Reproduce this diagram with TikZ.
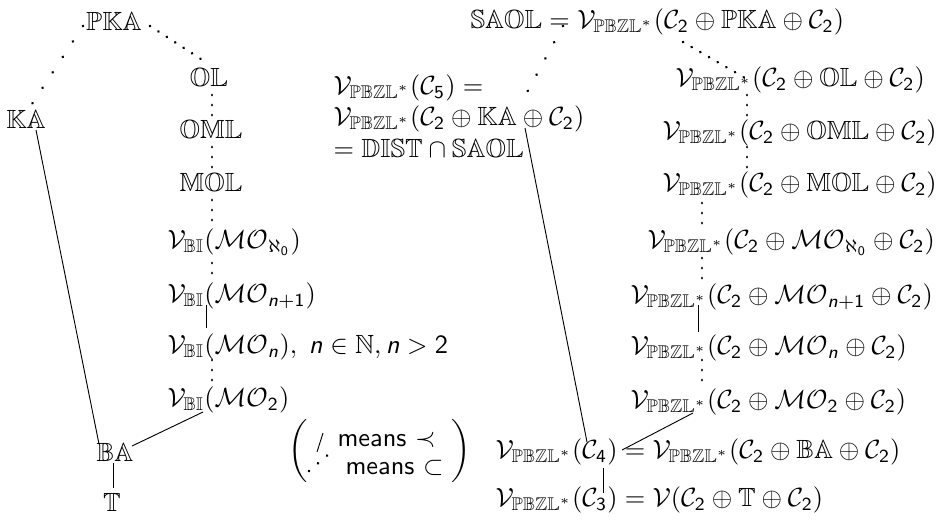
\documentclass[tikz,border=0pt]{standalone}
\usepackage{amsmath,amssymb}
\usetikzlibrary{positioning}

% sans digits and sans slanted n in math
\DeclareSymbolFont{sfdigits}{OT1}{cmss}{m}{n}
\DeclareSymbolFont{sfslanted}{OT1}{cmss}{m}{sl}
\DeclareMathSymbol{0}{\mathalpha}{sfdigits}{`0}
\DeclareMathSymbol{1}{\mathalpha}{sfdigits}{`1}
\DeclareMathSymbol{2}{\mathalpha}{sfdigits}{`2}
\DeclareMathSymbol{3}{\mathalpha}{sfdigits}{`3}
\DeclareMathSymbol{4}{\mathalpha}{sfdigits}{`4}
\DeclareMathSymbol{5}{\mathalpha}{sfdigits}{`5}
\DeclareMathSymbol{n}{\mathalpha}{sfslanted}{`n}

\newcommand{\VBI}{\mathcal{V}_{\mathbb{BI}}}
\newcommand{\VPB}{\mathcal{V}_{\mathbb{PBZL}^{*}}}
\newcommand{\Cc}[1]{\mathcal{C}_{#1}}

\begin{document}
\begin{tikzpicture}[
                    x=0.38pt, y=-0.38pt,
                    lbl/.style={inner sep=0pt},
                    lblw/.style={inner sep=0pt, anchor=west},
                    cover/.style={draw, line width=0.35pt},
                    incl/.style={draw, line width=1.1pt, line cap=round, dash pattern=on 0.01pt off 3.8pt},
                    inclwide/.style={incl, dash pattern=on 0.01pt off 7pt}
                ]
                    \useasboundingbox (0,0) rectangle (946,519);

                    % Place nodes: left lattice
                    \node [lbl] (pka) at (114,21) {$\mathbb{PKA}$};
                    \node [lbl] (ka) at (26,119) {$\mathbb{KA}$};
                    \node [lbl] (ol) at (209,80) {$\mathbb{OL}$};
                    \node [lbl] (oml) at (211,132) {$\mathbb{OML}$};
                    \node [lbl] (mol) at (211,185) {$\mathbb{MOL}$};
                    \node [lblw] (alf) at (167,242) {$\VBI(\mathcal{MO}_{\aleph_0})$};
                    \node [lblw] (np) at (167,296) {$\VBI(\mathcal{MO}_{n+1})$};
                    \node [lblw] (nn) at (167,347) {$\VBI(\mathcal{MO}_{n}),\; n\in\mathbb{N}, n>2$};
                    \node [lblw] (two) at (167,400) {$\VBI(\mathcal{MO}_{2})$};
                    \node [lbl] (ba) at (115,452) {$\mathbb{BA}$};
                    \node [lbl] (tt) at (112,502) {$\mathbb{T}$};

                    % Place nodes: right lattice
                    \node [lblw] (saol) at (470,22) {$\mathbb{SAOL}=\VPB(\Cc2\oplus\mathbb{PKA}\oplus\Cc2)$};
                    \node [lblw, align=left] (cfive) at (333,118) {$\VPB(\Cc5)=$\\[0pt]$\VPB(\Cc2\oplus\mathbb{KA}\oplus\Cc2)$\\[0pt]$=\mathbb{DIST}\cap\mathbb{SAOL}$};
                    \node [lblw] (rol) at (675,80) {$\VPB(\Cc2\oplus\mathbb{OL}\oplus\Cc2)$};
                    \node [lblw] (roml) at (662,133) {$\VPB(\Cc2\oplus\mathbb{OML}\oplus\Cc2)$};
                    \node [lblw] (rmol) at (662,185) {$\VPB(\Cc2\oplus\mathbb{MOL}\oplus\Cc2)$};
                    \node [lblw] (ralf) at (647,242) {$\VPB(\Cc2\oplus\mathcal{MO}_{\aleph_0}\oplus\Cc2)$};
                    \node [lblw] (rnp) at (630,297) {$\VPB(\Cc2\oplus\mathcal{MO}_{n+1}\oplus\Cc2)$};
                    \node [lblw] (rn) at (630,348) {$\VPB(\Cc2\oplus\mathcal{MO}_{n}\oplus\Cc2)$};
                    \node [lblw] (rtwo) at (630,402) {$\VPB(\Cc2\oplus\mathcal{MO}_{2}\oplus\Cc2)$};
                    \node [lblw] (cfour) at (495,452) {$\VPB(\Cc4)=\VPB(\Cc2\oplus\mathbb{BA}\oplus\Cc2)$};
                    \node [lblw] (cthree) at (495,500) {$\VPB(\Cc3)=\mathcal{V}(\Cc2\oplus\mathbb{T}\oplus\Cc2)$};

                    % Place nodes: legend
                    \node [lbl] (lpar) at (298,451) {$\bigg($};
                    \node [lbl] (rpar) at (461,451) {$\bigg)$};
                    \node [lblw] (mcov) at (337,440) {\textsf{means} $\prec$};
                    \node [lblw] (mincl) at (345,468) {\textsf{means} $\subset$};

                    % End points of the edges
                    \coordinate (pka-l) at (83,26);   \coordinate (ka-t) at (30,107);
                    \coordinate (pka-r) at (150,26);  \coordinate (ol-t) at (207,63);
                    \coordinate (ol-b) at (212,95);   \coordinate (oml-t) at (212,118);
                    \coordinate (oml-b) at (212,147); \coordinate (mol-t) at (212,170);
                    \coordinate (mol-b) at (212,200); \coordinate (alf-t) at (212,223);
                    \coordinate (alf-b) at (212,263); \coordinate (np-t) at (212,283);
                    \coordinate (np-b) at (206,305);  \coordinate (nn-t) at (206,328);
                    \coordinate (nn-b) at (212,360);  \coordinate (two-t) at (212,382);
                    \coordinate (two-b) at (203,412); \coordinate (ba-r) at (132,446);
                    \coordinate (ka-b) at (36,130);   \coordinate (ba-l) at (99,444);
                    \coordinate (ba-b) at (113,463);  \coordinate (tt-t) at (113,488);

                    \coordinate (saol-l) at (563,26);  \coordinate (cfive-t) at (519,107);
                    \coordinate (saol-r) at (683,42);  \coordinate (rol-t) at (745,78);
                    \coordinate (rol-b) at (747,95);   \coordinate (roml-t) at (747,124);
                    \coordinate (roml-b) at (747,147); \coordinate (rmol-t) at (747,175);
                    \coordinate (rmol-b) at (702,203); \coordinate (ralf-t) at (702,233);
                    \coordinate (ralf-b) at (702,258); \coordinate (rnp-t) at (702,285);
                    \coordinate (rnp-b) at (698,305);  \coordinate (rn-t) at (698,332);
                    \coordinate (rn-b) at (702,360);   \coordinate (rtwo-t) at (702,385);
                    \coordinate (rtwo-b) at (693,413); \coordinate (cfour-r) at (622,450);
                    \coordinate (cfive-b) at (525,128); \coordinate (cfour-t) at (587,442);
                    \coordinate (cfour-b) at (603,468); \coordinate (cthree-t) at (603,493);

                    \coordinate (key-a) at (317,452); \coordinate (key-b) at (323,433);
                    \coordinate (key-c) at (309,471); \coordinate (key-d) at (330,453);

                    % Draw edges: left lattice
                    \path [inclwide] (pka-l) -- (ka-t);
                    \path [incl] (pka-r) -- (ol-t);
                    \path [incl] (ol-b) -- (oml-t);
                    \path [incl] (oml-b) -- (mol-t);
                    \path [incl] (mol-b) -- (alf-t);
                    \path [incl] (alf-b) -- (np-t);
                    \path [cover] (np-b) -- (nn-t);
                    \path [incl] (nn-b) -- (two-t);
                    \path [cover] (two-b) -- (ba-r);
                    \path [cover] (ka-b) -- (ba-l);
                    \path [cover] (ba-b) -- (tt-t);

                    % Draw edges: right lattice
                    \path [inclwide] (saol-l) -- (cfive-t);
                    \path [incl] (saol-r) -- (rol-t);
                    \path [incl] (rol-b) -- (roml-t);
                    \path [incl] (roml-b) -- (rmol-t);
                    \path [incl] (rmol-b) -- (ralf-t);
                    \path [incl] (ralf-b) -- (rnp-t);
                    \path [cover] (rnp-b) -- (rn-t);
                    \path [incl] (rn-b) -- (rtwo-t);
                    \path [cover] (rtwo-b) -- (cfour-r);
                    \path [cover] (cfive-b) -- (cfour-t);
                    \path [cover] (cfour-b) -- (cthree-t);

                    % Draw edges: legend
                    \path [cover] (key-a) -- (key-b);
                    \path [incl, dash pattern=on 0.01pt off 4.5pt] (key-c) -- (key-d);
            \end{tikzpicture}
\end{document}
